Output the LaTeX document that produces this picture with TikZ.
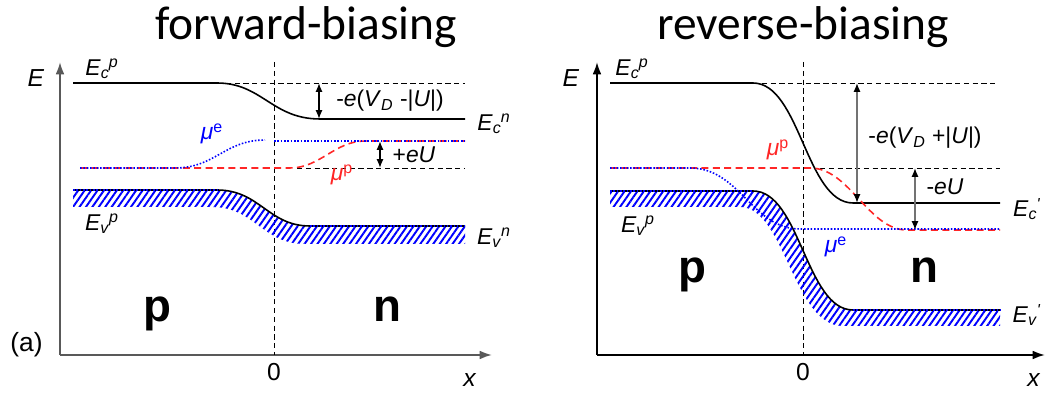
\documentclass[tikz,border=0pt]{standalone}
\usepackage{fontspec}
\setmainfont{Liberation Sans}
\newfontfamily\titlefont{Carlito}
\usetikzlibrary{arrows.meta,patterns.meta}

\newcommand{\lvl}[3]{\textit{#1}\textsubscript{\textit{#2}}\kern-0.5pt\textsuperscript{\textit{#3}}}

\begin{document}
\begin{tikzpicture}[x=0.02cm,y=-0.02cm,
  band/.style={line width=0.9pt},
  guide/.style={densely dashed,line width=0.5pt},
  axis/.style={-{Latex[length=7pt,width=5pt]},line width=1.1pt},
  gap/.style={{Latex[length=5pt,width=4pt,color=black]}-{Latex[length=5pt,width=4pt,color=black]},line width=0.9pt},
  hatch/.style={pattern={Lines[angle=55,distance=3pt,line width=1.1pt]},pattern color=blue},
  muE/.style={blue,densely dotted,line width=0.9pt},
  muP/.style={red!85,dash pattern=on 4pt off 2.5pt,line width=0.9pt},
  lbl/.style={font=\fontsize{13}{13}\selectfont,inner sep=0pt},
  ax/.style={font=\fontsize{14}{14}\selectfont,inner sep=0pt},
  big/.style={font=\fontsize{26}{26}\selectfont\bfseries,inner sep=0pt,anchor=base},
  title/.style={font=\fontsize{27}{27}\selectfont\titlefont,inner sep=0pt,anchor=base},
]
\useasboundingbox (0,0) rectangle (1046,394);

% titles
\node[title] (tfwd) at (306,40) {forward-biasing};
\node[title] (trev) at (803,40) {reverse-biasing};

% ---- forward-biasing panel ----
\draw[axis,black!65] (60,355) -- (60,62);
\draw[axis,black!65] (60,355) -- (492,355);
\node[ax] (eL) at (36,78) {\textit{E}};
\node[ax] (zeroL) at (274,372) {0};
\node[ax] (xL) at (470,380) {\textit{x}};
\node[ax,font=\fontsize{15}{15}\selectfont,anchor=east] (aL) at (43,345) {(a)};
\draw[guide] (274,62) -- (274,355);

% valence band with hatching
\fill[hatch] (73,190) -- (217,190) .. controls (260,190) and (268,226) .. (310,226)
  -- (465,226) -- (465,244) -- (305,244) .. controls (262,244) and (255,207) .. (212,207)
  -- (73,207) -- cycle;
\draw[band] (73,190) -- (217,190) .. controls (260,190) and (268,226) .. (310,226) -- (465,226);
\draw[muE] (73,190) -- (217,190) (310,226) -- (465,226);

% conduction band
\draw[band] (73,83) -- (217,83) .. controls (262,83) and (272,119) .. (320,119) -- (465,119);
\draw[guide] (217,83) -- (465,83);
\draw[guide] (297,168) -- (465,168);

% quasi Fermi levels
\draw[muP] (80,168) -- (290,168) .. controls (320,168) and (335,141) .. (365,141) -- (465,141);
\draw[muE] (80,168) -- (175,168) .. controls (215,168) and (225,140) .. (265,140);
\draw[muE] (274,141) -- (465,141);

% level differences
\coordinate (gL1) at (319,83);
\coordinate (gL2) at (319,119);
\coordinate (uL1) at (380,141);
\coordinate (uL2) at (380,168);
\draw[gap] (gL1) -- (gL2);
\draw[gap] (uL1) -- (uL2);

\node[lbl] (ecpL) at (102,69) {\lvl{E}{c}{p}};
\node[lbl] (ecnL) at (494,124) {\lvl{E}{c}{n}};
\node[lbl] (evpL) at (102,224) {\lvl{E}{v}{p}};
\node[lbl] (evnL) at (494,238) {\lvl{E}{v}{n}};
\node[lbl,blue] (mueL) at (212,134) {\textit{μ}\textsuperscript{e}};
\node[lbl,red!85] (mupL) at (342,175) {\textit{μ}\textsuperscript{p}};
\node[lbl] (vdL) at (390,101) {-\textit{e}(\textit{V}\textsubscript{\textit{D}} -|\textit{U}|)};
\node[lbl] (euL) at (414,155) {+\textit{eU}};
\node[big] (pL) at (157,322) {p};
\node[big] (nL) at (387,322) {n};

% ---- reverse-biasing panel ----
\draw[axis] (597,355) -- (597,62);
\draw[axis] (597,355) -- (1045,355);
\node[ax] (eR) at (571,78) {\textit{E}};
\node[ax] (zeroR) at (803,372) {0};
\node[ax] (xR) at (1034,380) {\textit{x}};
\draw[guide] (803,62) -- (803,355);

% valence band with hatching
\fill[hatch] (610,191) -- (753,191) .. controls (800,191) and (806,310) .. (853,310)
  -- (1000,310) -- (1000,326) -- (843,326) .. controls (793,326) and (785,207) .. (740,207)
  -- (610,207) -- cycle;
\draw[band] (610,191) -- (753,191) .. controls (800,191) and (806,310) .. (853,310) -- (1000,310);
\draw[muE] (610,191) -- (753,191) (853,310) -- (1000,310);

% conduction band
\draw[band] (610,83) -- (753,83) .. controls (800,83) and (806,203) .. (853,203) -- (1000,203);
\draw[guide] (753,83) -- (998,83);
\draw[guide] (820,168) -- (1000,168);

% quasi Fermi levels
\draw[muP] (610,168) -- (810,168) .. controls (850,168) and (868,230) .. (907,230) -- (1000,230);
\draw[muE] (610,168) -- (690,168) .. controls (740,168) and (752,229) .. (800,229) -- (1000,229);

% level differences
\coordinate (gR1) at (857,83);
\coordinate (gR2) at (857,203);
\coordinate (uR1) at (915,168);
\coordinate (uR2) at (915,230);
\draw[gap,black!55] (gR1) -- (gR2);
\draw[gap,black!55] (uR1) -- (uR2);

\node[lbl] (ecpR) at (632,69) {\lvl{E}{c}{p}};
\node[lbl] (ecR) at (1027,209) {\lvl{E}{c}{\textquotesingle}};
\node[lbl] (evpR) at (638,226) {\lvl{E}{v}{p}};
\node[lbl] (evR) at (1027,315) {\lvl{E}{v}{\textquotesingle}};
\node[lbl,red!85] (mupR) at (778,150) {\textit{μ}\textsuperscript{p}};
\node[lbl,blue] (mueR) at (836,247) {\textit{μ}\textsuperscript{e}};
\node[lbl] (vdR) at (925,138) {-\textit{e}(\textit{V}\textsubscript{\textit{D}} +|\textit{U}|)};
\node[lbl] (euR) at (945,187) {-\textit{eU}};
\node[big] (pR) at (692,283) {p};
\node[big] (nR) at (924,283) {n};
\end{tikzpicture}
\end{document}
